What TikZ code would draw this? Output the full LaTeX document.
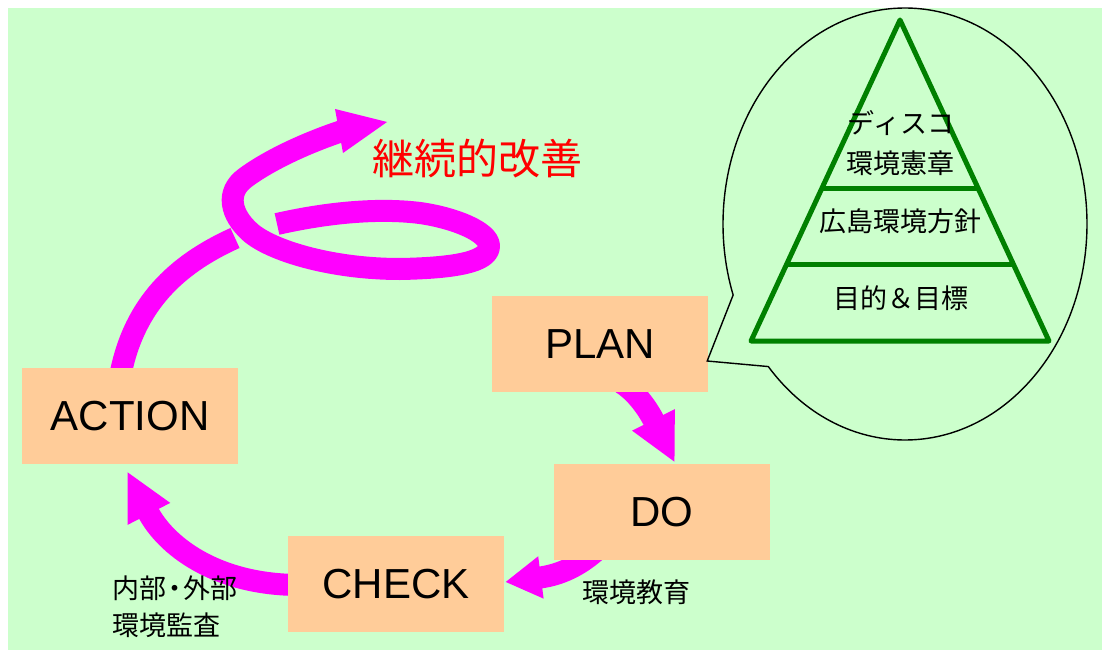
\documentclass[tikz,border=0pt]{standalone}
\usepackage{fontspec}
\setmainfont{Liberation Sans}
\newfontfamily\jp{Noto Sans CJK JP}
\usetikzlibrary{arrows.meta,calc}
\definecolor{bgc}{HTML}{CCFFCC}
\definecolor{boxc}{HTML}{FFCC99}
\definecolor{mag}{HTML}{FF00FF}
\definecolor{pyr}{HTML}{008000}
\pgfdeclarelayer{bglayer}
\pgfdeclarelayer{arrowlayer}
\pgfsetlayers{bglayer,arrowlayer,main}
\begin{document}
\begin{tikzpicture}[x=1pt,y=-1pt,
  stagebox/.style={fill=boxc, minimum width=216pt, minimum height=96pt, inner sep=0pt,
    font=\fontsize{42}{48}\selectfont},
  fat/.style={draw=mag, line width=22pt},
  fathead/.style={-{Triangle[length=48pt,width=44pt]}},
  smallhead/.style={-{Triangle[length=36pt,width=40pt]}},
  jplabel/.style={inner sep=0pt, font=\jp\fontsize{27}{32}\selectfont},
  pyrline/.style={draw=pyr, line width=5pt, line join=round}
]
\useasboundingbox (0,0) rectangle (1102,650);
\begin{pgfonlayer}{bglayer}
  \fill[bgc] (8,8) rectangle (1102,650);
\end{pgfonlayer}

% stage boxes
\node[stagebox] (plan) at (600,344) {PLAN};
\node[stagebox] (do) at (662,512) {DO};
\node[stagebox] (check) at (396,584) {CHECK};
\node[stagebox] (action) at (130,416) {ACTION};

\coordinate (loopend) at (235,238);
\coordinate (spiralstart) at (277,224);
\coordinate (spiralbase) at (342,131);

\begin{pgfonlayer}{arrowlayer}
  % PLAN -> DO
  \draw[fat, fathead] ($(plan.south)+(22,-9)$) .. controls (640,395) and (651,415) .. ($(do.north)+(13,-1)$);
  % DO -> CHECK
  \draw[fat, smallhead] ($(do.south)+(-62,-13)$) .. controls (580,566) and (560,575) .. ($(check.east)+(1,-2)$);
  % CHECK -> ACTION
  \draw[fat, fathead] ($(check.west)+(12,1)$) .. controls (215,585) and (165,545) .. ($(action.south)+(-3,7)$);
  % ACTION -> spiral
  \draw[fat] ($(action.north)+(-9,4)$) .. controls (135,305) and (175,265) .. (loopend);
  % spiral
  \draw[fat, line join=round] (spiralstart)
    .. controls (330,212) and (380,208) .. (420,213)
    .. controls (455,218) and (489,232) .. (489,246)
    .. controls (489,262) and (455,268) .. (400,269)
    .. controls (330,269) and (270,250) .. (250,232)
    .. controls (230,214) and (226,192) .. (245,178)
    .. controls (265,163) and (300,145) .. (spiralbase);
  \fill[mag] (335,109) -- (387,122) -- (343,153) -- cycle;
\end{pgfonlayer}

\node[text=red, inner sep=0pt, font=\jp\fontsize{42}{48}\selectfont] (kaizen) at (477,159) {継続的改善};

\node[jplabel] (kyoiku) at (636,592) {環境教育};
\node[jplabel, anchor=west] (naibu) at (112,588) {内部\hspace{-5pt}・\hspace{-5pt}外部};
\node[jplabel, anchor=west] (kansa) at (112,625) {環境監査};

% callout
\draw[line width=1.4pt] (905,224) ++(138.7:182 and 216)
  arc[start angle=138.7, end angle=-199.2, x radius=182, y radius=216]
  -- ($(plan.east)+(-1,17)$) -- cycle;

% pyramid
\coordinate (ap) at (900,20);
\coordinate (bl) at (751,341);
\coordinate (br) at (1049,341);
\draw[pyrline] (ap) -- (bl) -- (br) -- cycle;
\draw[pyrline] ($(ap)!0.526!(bl)$) -- ($(ap)!0.526!(br)$);
\draw[pyrline] ($(ap)!0.763!(bl)$) -- ($(ap)!0.763!(br)$);

\node[jplabel] (disco) at (901,123) {ディスコ};
\node[jplabel] (kensho) at (900,163) {環境憲章};
\node[jplabel] (hoshin) at (900,221) {広島環境方針};
\node[jplabel] (mokuteki) at (901,298) {目的＆目標};
\end{tikzpicture}
\end{document}
